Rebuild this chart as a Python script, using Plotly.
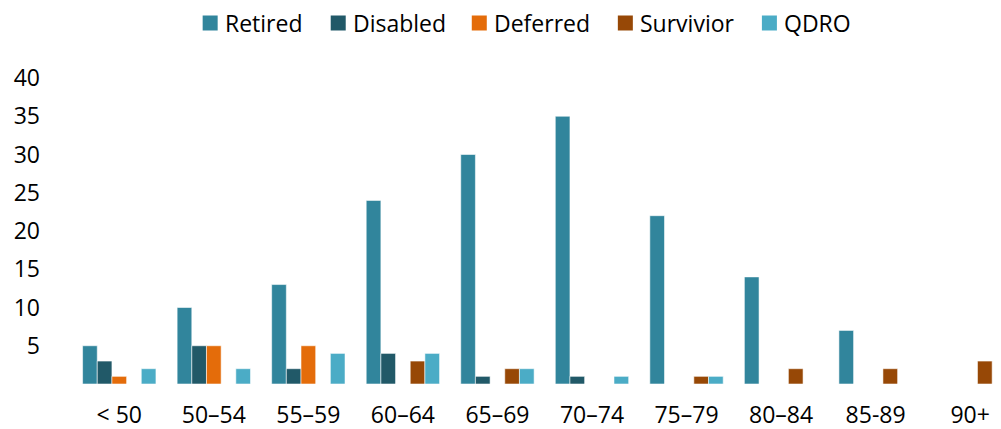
import plotly.graph_objects as go

# Age bands along the x axis
age_bands = ["< 50", "50–54", "55–59", "60–64", "65–69", "70–74", "75–79", "80–84", "85-89", "90+"]

# Counts per member status in each age band
retired  = [5, 10, 13, 24, 30, 35, 22, 14, 7, 0]
disabled = [3, 5, 2, 4, 1, 1, 0, 0, 0, 0]
deferred = [1, 5, 5, 0, 0, 0, 0, 0, 0, 0]
survivor = [0, 0, 0, 3, 2, 0, 1, 2, 2, 3]
qdro     = [2, 2, 4, 4, 2, 1, 1, 0, 0, 0]

y_ticks = [5, 10, 15, 20, 25, 30, 35, 40]

series_names = ["Retired", "Disabled", "Deferred", "Survivior", "QDRO"]
series_values = [retired, disabled, deferred, survivor, qdro]
series_colors = ["#31859C", "#215968", "#E46C0A", "#974806", "#4BACC6"]

FONT = "Open Sans"
FSIZE = 23

W, H = 1001, 429
left, top, bottom = 72.4, 78, 45
plot_w = W - left
plot_h = H - top - bottom
band = 94.5  # pixels per age band
x_end = -0.5 + plot_w / band


def px_to_paper_x(px):
    return (px - left) / plot_w


def px_to_paper_y(py):
    return (H - bottom - py) / plot_h


fig = go.Figure()
for name, vals, color in zip(series_names, series_values, series_colors):
    fig.add_trace(go.Bar(
        name=name,
        x=age_bands,
        y=vals,
        showlegend=False,
        marker=dict(color=color, line=dict(color="rgba(255,255,255,0.55)", width=1)),
    ))

# Legend row across the top: colour square followed by its label
legend_left_px = [203, 331, 472, 618, 762]
square = 15
legend_mid_y = 23
for name, color, x0 in zip(series_names, series_colors, legend_left_px):
    fig.add_shape(
        type="rect", xref="paper", yref="paper",
        x0=px_to_paper_x(x0), x1=px_to_paper_x(x0 + square),
        y0=px_to_paper_y(legend_mid_y + square / 2), y1=px_to_paper_y(legend_mid_y - square / 2),
        fillcolor=color, line=dict(width=0),
    )
    fig.add_annotation(
        xref="paper", yref="paper",
        x=px_to_paper_x(x0 + square + 5), y=px_to_paper_y(legend_mid_y),
        xanchor="left", yanchor="middle",
        text=name, showarrow=False,
        font=dict(family=FONT, size=FSIZE, color="#000000"),
    )

fig.update_layout(
    width=W,
    height=H,
    margin=dict(l=left, r=0, t=top, b=bottom, pad=0),
    barmode="group",
    bargap=0.224,
    bargroupgap=0,
    plot_bgcolor="white",
    paper_bgcolor="white",
    font=dict(family=FONT, size=FSIZE, color="#000000"),
    showlegend=False,
    xaxis=dict(
        type="category",
        range=[-0.5, x_end],
        automargin=False,
        showgrid=False,
        zeroline=False,
        showline=False,
        ticks="",
        ticklabelstandoff=15,
        tickfont=dict(family=FONT, size=FSIZE),
    ),
    yaxis=dict(
        range=[0, 40],
        tickvals=y_ticks,
        automargin=False,
        showgrid=False,
        zeroline=False,
        showline=False,
        ticks="",
        ticklabelstandoff=31,
        tickfont=dict(family=FONT, size=FSIZE),
    ),
)

fig.write_html("out.html")
